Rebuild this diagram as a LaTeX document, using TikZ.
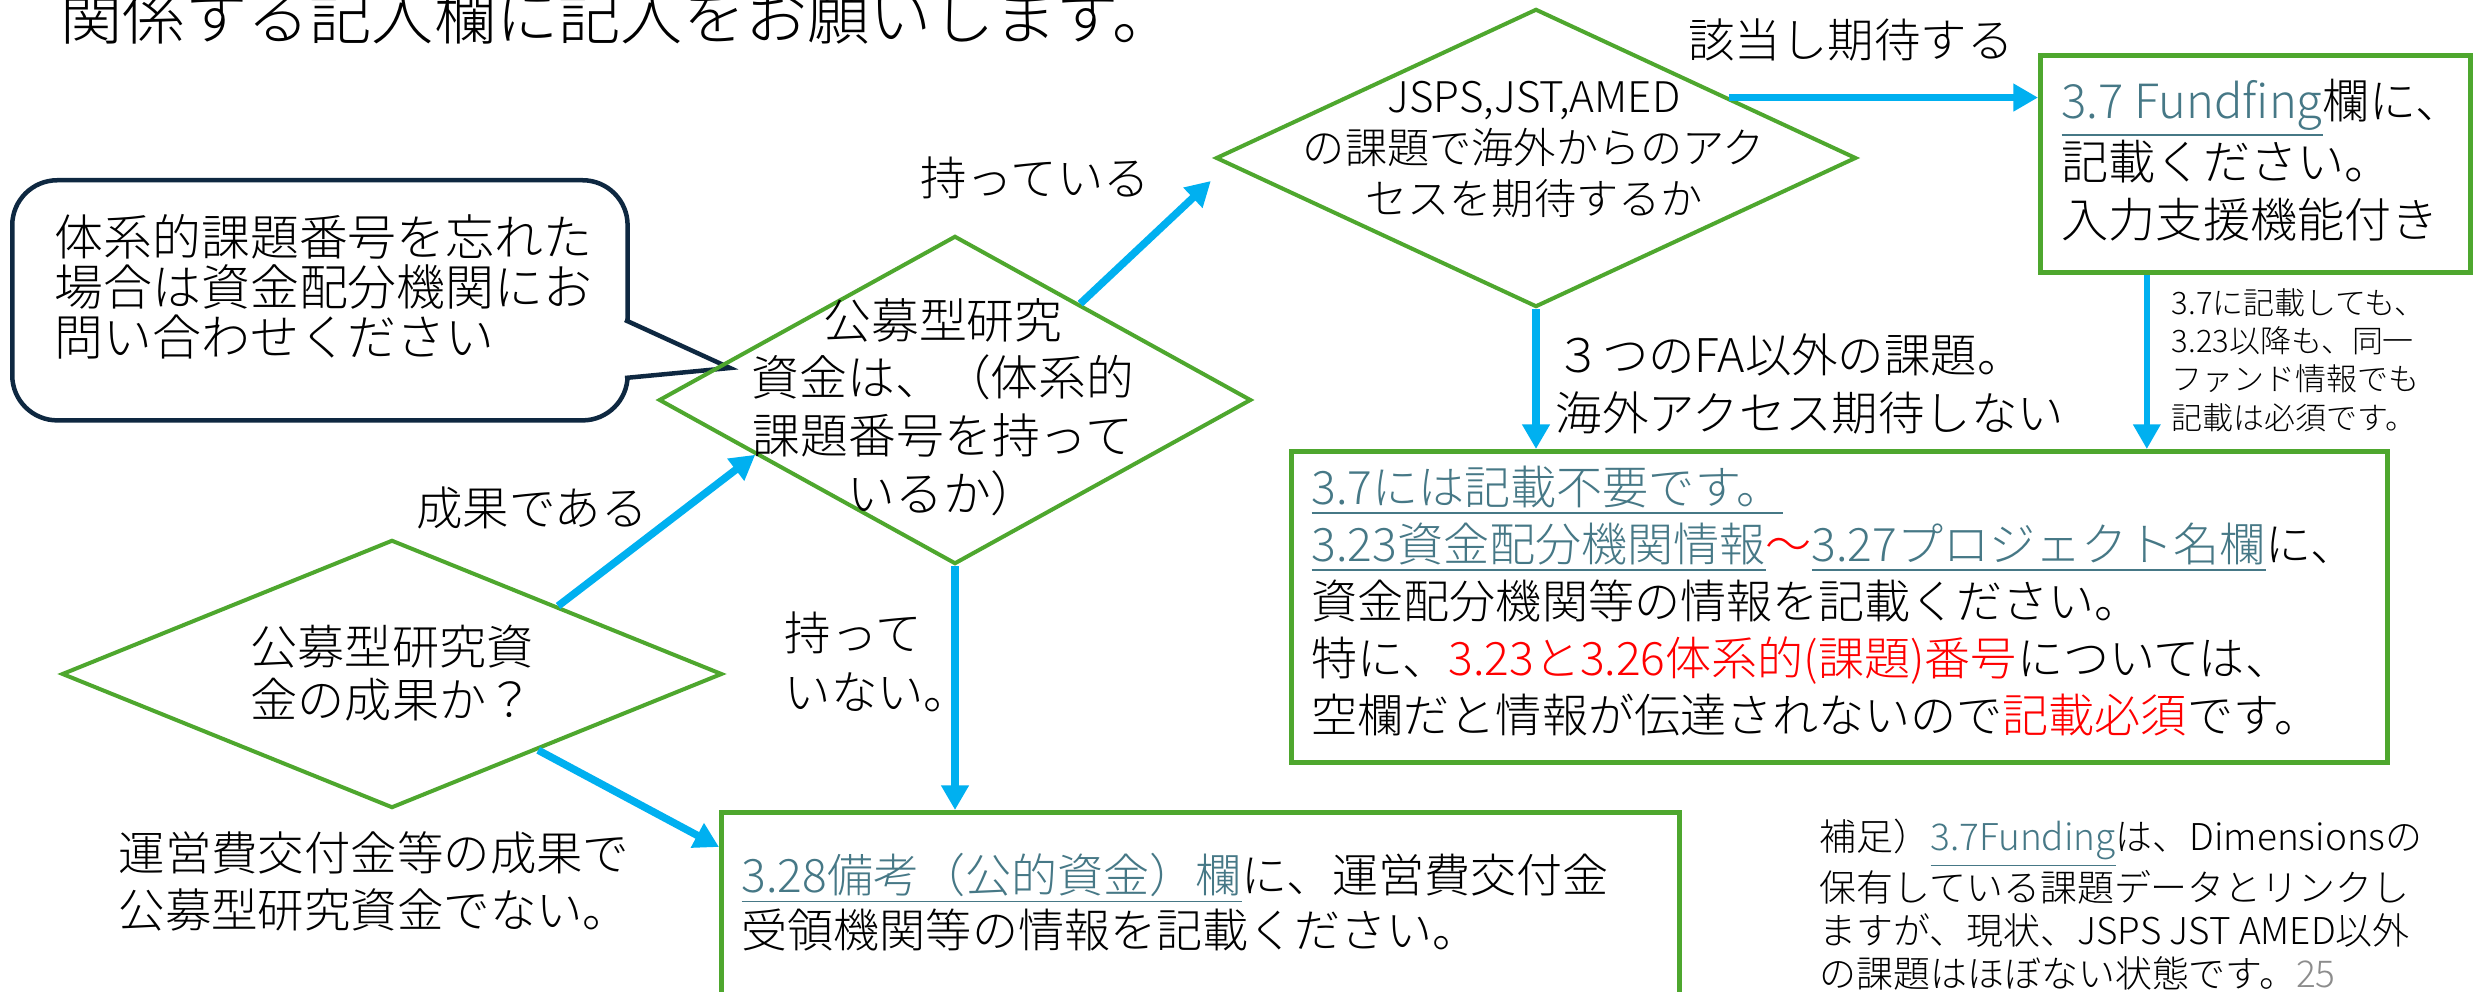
\documentclass[tikz,border=0pt]{standalone}
\usepackage{fontspec}
\setmainfont{Noto Sans CJK JP Light}
\usetikzlibrary{shapes.geometric,arrows.meta,calc}
\definecolor{grn}{HTML}{4EA72E}
\definecolor{cyan1}{HTML}{00B0F0}
\definecolor{navy}{HTML}{0E2841}
\definecolor{linkc}{HTML}{467886}
\definecolor{redc}{HTML}{FF0000}
\definecolor{pgray}{HTML}{8C8C8C}
\newcommand\fs[2]{\fontsize{#1}{#2}\selectfont}
\newcommand\lk[1]{\textcolor{linkc}{\underline{#1}}}
\newcommand\rd[1]{\textcolor{redc}{#1}}
\tikzset{
 dia/.style={diamond, draw=grn, line width=0.4mm, inner sep=0pt},
 boxst/.style={draw=grn, line width=0.5mm, inner sep=0pt, anchor=north west},
 arr/.style={draw=cyan1, line width=0.75mm, -{Triangle[length=7pt,width=7.5pt]}},
 arrthin/.style={arr, line width=0.55mm},
 txt/.style={inner sep=0pt, text=black},
 lbl/.style={txt, font=\fs{13.2pt}{16.2pt}},
}
\begin{document}
\begin{tikzpicture}[x=0.01cm,y=-0.01cm]
\useasboundingbox (0,0) rectangle (2476,992);
\clip (0,0) rectangle (2476,992);
\fill[white] (0,0) rectangle (2476,992);

% title
\node[txt, anchor=base west, font=\fs{17.7pt}{20pt}] (title) at (60,40) {関係する記入欄に記入をお願いします。};

% callout
\node[draw=navy, line width=0.45mm, rounded corners=4.5mm, minimum width=6.15cm, minimum height=2.4cm, anchor=north west, inner sep=0pt, fill=white] (co) at (10,178) {};
\coordinate (tip) at (730,368);
\fill[white] (615,320) -- (625,320) -- (tip) -- (625,378) -- (615,378) -- cycle;
\draw[navy, line width=0.45mm, line join=miter] (625,320) -- (tip) -- (625,378);
\node[txt, anchor=west, align=left, font=\fs{13.9pt}{14.2pt}] (cot) at (54,287) {体系的課題番号を忘れた\\場合は資金配分機関にお\\問い合わせください};

% diamonds
\node[dia, minimum width=6.4cm, minimum height=2.98cm] (d2) at (1536,158) {};
\node[dia, minimum width=5.92cm, minimum height=3.28cm] (d3) at (955,400) {};
\node[dia, minimum width=6.6cm, minimum height=2.68cm] (d1) at (392,674) {};
\node[txt, align=center, font=\fs{12pt}{14.5pt}] (d2t) at (1534,150) {JSPS,JST,AMED\\の課題で海外からのアク\\セスを期待するか};
\node[txt, align=center, font=\fs{13.6pt}{16.4pt}] (d3t) at (943,407) {公募型研究\\資金は、（体系的\\課題番号を持って\\いるか）};
\node[txt, align=center, font=\fs{13.4pt}{15pt}] (d1t) at (392,673) {公募型研究資\\金の成果か？};

% boxes
\node[boxst, minimum width=4.3cm, minimum height=2.17cm] (b37) at (2038,53) {};
\node[boxst, minimum width=10.95cm, minimum height=3.11cm] (big) at (1289,449) {};
\node[boxst, minimum width=9.57cm, minimum height=2.4cm] (b328) at (719,810) {};

\node[txt, anchor=west, align=left, font=\fs{13.4pt}{16.4pt}] (b37t) at (2061,160) {\lk{3.7 Fundfing}欄に、\\記載ください。\\入力支援機能付き};
\node[txt, anchor=west, align=left, font=\fs{13.1pt}{16.2pt}] (bigt) at (1311,601) {\lk{3.7には記載不要です。}\\\lk{3.23資金配分機関情報}\rd{～}\lk{3.27プロジェクト名欄}に、\\資金配分機関等の情報を記載ください。\\特に、\rd{3.23と3.26体系的(課題)番号}については、\\空欄だと情報が伝達されないので\rd{記載必須}です。};
\node[txt, anchor=west, align=left, font=\fs{13.1pt}{15.6pt}] (b328t) at (741,902) {\lk{3.28備考（公的資金）欄}に、運営費交付金\\受領機関等の情報を記載ください。};

% labels
\node[lbl] (l1) at (1851,40) {該当し期待する};
\node[lbl] (l2) at (1035,178) {持っている};
\node[lbl] (l3) at (532,508) {成果である};
\node[lbl, anchor=west, align=left, font=\fs{13.2pt}{16.8pt}] (l4) at (784,662) {持って\\いない。};
\node[lbl, anchor=west, align=left] (l5) at (118,881) {運営費交付金等の成果で\\公募型研究資金でない。};
\node[lbl, anchor=west, align=left, font=\fs{13.2pt}{16.5pt}] (l6) at (1555,384) {３つのFA以外の課題。\\海外アクセス期待しない};
\node[txt, anchor=west, align=left, font=\fs{8.8pt}{10.9pt}] (l7) at (2171,360) {3.7に記載しても、\\3.23以降も、同一\\ファンド情報でも\\記載は必須です。};
\node[txt, anchor=west, align=left, font=\fs{10.5pt}{12.2pt}] (note) at (1819,905) {補足）\lk{3.7Funding}は、Dimensionsの\\保有している課題データとリンクし\\ますが、現状、JSPS JST AMED以外\\の課題はほぼない状態です。\textcolor{pgray}{25}};

% connectors
\coordinate (a1) at ($(d2.north east)!0.2!(d2.east)$);
\draw[arr] (a1) -- (a1 -| b37.west);
\coordinate (a2s) at ($(d3.north)!0.42!(d3.east)$);
\coordinate (a2e) at ([shift={(-3,23)}]d2.west);
\draw[arr] (a2s) -- (a2e);
\draw[arr] (d3.south) -- (d3.south |- b328.north);
\coordinate (a4s) at ($(d1.north)!0.5!(d1.east)$);
\coordinate (a4e) at ($(d3.west)!0.33!(d3.south)$);
\draw[arr] (a4s) -- (a4e);
\coordinate (a5s) at ($(d1.east)!0.56!(d1.south)$);
\coordinate (a5e) at ([shift={(0,37)}]b328.north west);
\draw[arr] (a5s) -- (a5e);
\draw[arr] (d2.south) -- (d2.south |- big.north);
\coordinate (a7s) at ($(b37.south west)!0.25!(b37.south east)$);
\draw[arrthin] (a7s) -- (a7s |- big.north);
\end{tikzpicture}
\end{document}
